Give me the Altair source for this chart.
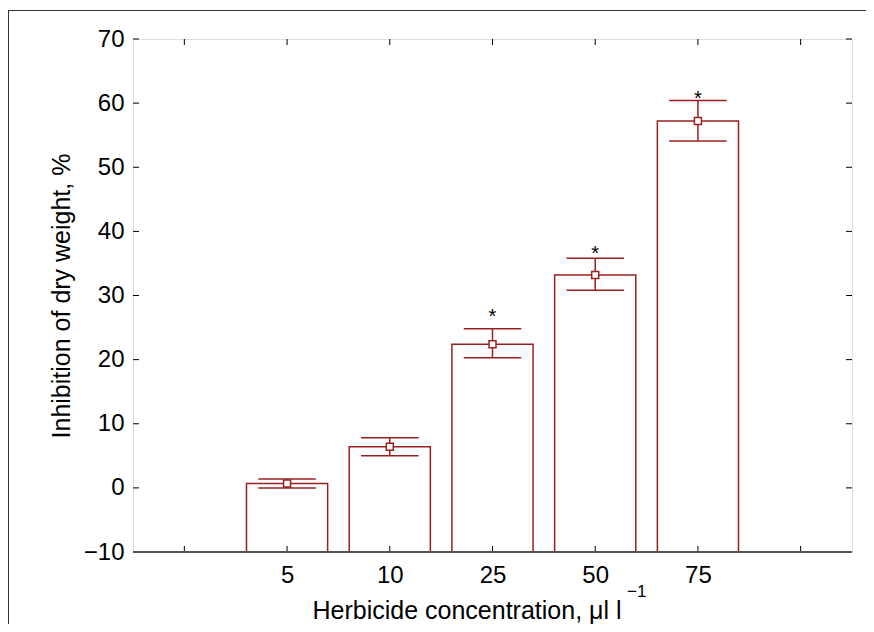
import altair as alt
import pandas as pd

# ---- data ----
concentrations = ["5", "10", "25", "50", "75"]
means = [0.7, 6.4, 22.4, 33.2, 57.2]
err_low = [0.0, 5.0, 20.3, 30.8, 54.1]
err_high = [1.4, 7.8, 24.8, 35.8, 60.4]
star_pos = [None, None, 27.4, 37.3, 61.5]
y_ticks = [-10, 0, 10, 20, 30, 40, 50, 60, 70]
slot_centers = [0.5, 1.5, 2.5, 3.5, 4.5, 5.5, 6.5]

RED = "#9a1f22"
W, H = 719, 513
BAR_HALF = 0.395
CAP_HALF = 0.28

df = pd.DataFrame({
    "conc": concentrations,
    "mean": means,
    "lo": err_low,
    "hi": err_high,
    "star": star_pos,
})
df["pos"] = [i + 1.5 for i in range(len(df))]
df["base"] = -10
df["bx1"] = df["pos"] - BAR_HALF
df["bx2"] = df["pos"] + BAR_HALF
df["cx1"] = df["pos"] - CAP_HALF
df["cx2"] = df["pos"] + CAP_HALF

label_array = "[" + ",".join("'%s'" % c for c in concentrations) + "]"
label_expr = label_array + "[datum.value - 1.5]"

xscale = alt.Scale(domain=[0, 7], nice=False, zero=False)
yscale = alt.Scale(domain=[-10, 70], nice=False, zero=False)

FONT = "Liberation Sans"

xaxis = alt.Axis(values=[1.5, 2.5, 3.5, 4.5, 5.5], labelExpr=label_expr,
                 ticks=False, domain=False, grid=False, labelFontSize=24,
                 labelFont=FONT, labelColor="black", labelPadding=11,
                 title="Herbicide concentration, μl l", titleFont=FONT,
                 titleFontSize=25, titleFontWeight="normal", titleColor="black",
                 titlePadding=11, titleAnchor="start", titleAlign="left",
                 titleX=179)
yaxis = alt.Axis(values=y_ticks, ticks=False, domain=False, grid=False,
                 labelFontSize=24, labelFont=FONT, labelColor="black",
                 labelPadding=9, title="Inhibition of dry weight, %",
                 titleFont=FONT, titleFontSize=25, titleFontWeight="normal",
                 titleColor="black", titlePadding=9)

base = alt.Chart(df)

bars = base.mark_rect(fill="white", stroke=RED, strokeWidth=1.5).encode(
    x=alt.X("bx1:Q", scale=xscale, axis=xaxis),
    x2="bx2:Q",
    y=alt.Y("base:Q", scale=yscale, axis=yaxis),
    y2="mean:Q",
)

whisker = base.mark_rule(color=RED, strokeWidth=1.5).encode(
    x="pos:Q", y="lo:Q", y2="hi:Q")
cap_hi = base.mark_rule(color=RED, strokeWidth=1.5).encode(
    x="cx1:Q", x2="cx2:Q", y="hi:Q")
cap_lo = base.mark_rule(color=RED, strokeWidth=1.5).encode(
    x="cx1:Q", x2="cx2:Q", y="lo:Q")
squares = base.mark_square(size=49, fill="white", stroke=RED, strokeWidth=1.5,
                           opacity=1).encode(x="pos:Q", y="mean:Q")
stars = base.transform_filter("datum.star != null").mark_text(
    text="*", fontSize=20, font=FONT, color="black", baseline="middle", dy=5
).encode(x="pos:Q", y="star:Q")

# superscript of the x-axis title unit
sup = alt.Chart(pd.DataFrame({"t": ["\u22121"]})).mark_text(
    font=FONT, fontSize=17, color="black", align="left", baseline="alphabetic"
).encode(text="t:N", x=alt.value(494), y=alt.value(H + 45))

# inward ticks
ydf = pd.DataFrame({"v": y_ticks})
xdf = pd.DataFrame({"p": slot_centers})
lt = alt.Chart(ydf).mark_rule(color="black").encode(
    y=alt.Y("v:Q", scale=yscale), x=alt.value(0), x2=alt.value(6))
rt = alt.Chart(ydf).mark_rule(color="black").encode(
    y=alt.Y("v:Q", scale=yscale), x=alt.value(W - 6), x2=alt.value(W))
tt = alt.Chart(xdf).mark_rule(color="black").encode(
    x=alt.X("p:Q", scale=xscale), y=alt.value(0), y2=alt.value(6))
bt = alt.Chart(xdf).mark_rule(color="black").encode(
    x=alt.X("p:Q", scale=xscale), y=alt.value(H - 6), y2=alt.value(H))

bottom_line = alt.Chart(pd.DataFrame({"v": [-10]})).mark_rule(
    color="#555555", strokeWidth=2).encode(
    y=alt.Y("v:Q", scale=yscale), x=alt.value(0), x2=alt.value(W))

# outer figure frame (left and top edges)
frame_left = alt.Chart(pd.DataFrame({"v": [0]})).mark_rule(
    color="#333333", strokeWidth=1).encode(
    x=alt.value(-124.5), y=alt.value(-29), y2=alt.value(H + 80))
frame_top = alt.Chart(pd.DataFrame({"v": [0]})).mark_rule(
    color="#333333", strokeWidth=1).encode(
    x=alt.value(-124.5), x2=alt.value(W + 40), y=alt.value(-28.5))

chart = alt.layer(
    frame_left, frame_top, bars, whisker, cap_hi, cap_lo, squares, stars,
    lt, rt, tt, bt, bottom_line, sup
).properties(
    width=W, height=H,
    autosize=alt.AutoSizeParams(type="none"),
    padding={"left": 125, "top": 31, "right": 14, "bottom": 72},
).configure_view(stroke="black", strokeWidth=1).configure(background="white")

chart.save("out.html", embed_options={"renderer": "svg", "actions": False})
